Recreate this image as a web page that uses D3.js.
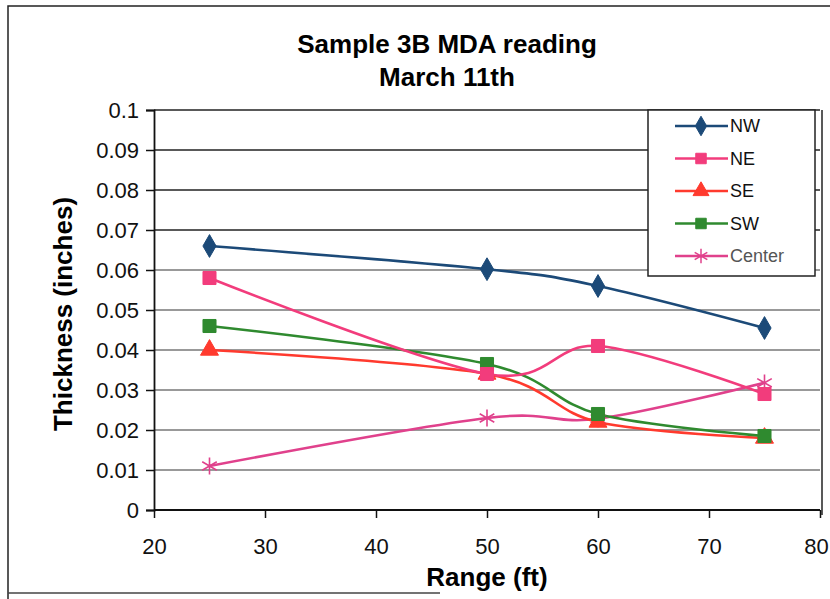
<!DOCTYPE html>
<html>
<head>
<meta charset="utf-8">
<script src="https://cdn.jsdelivr.net/npm/d3@7"></script>
<style>
  body { margin: 0; background: #fff; }
  svg text { font-family: "Liberation Sans", Arial, sans-serif; }
</style>
</head>
<body>
<svg id="chart" width="830" height="599"></svg>
<script>
// data
const ranges = [25, 50, 60, 75];
const seriesNames = ["NW", "NE", "SE", "SW", "Center"];
const nw = [0.066, 0.0602, 0.056, 0.0455];
const ne = [0.058, 0.034, 0.041, 0.029];
const se = [0.040, 0.034, 0.022, 0.018];
const sw = [0.046, 0.0365, 0.024, 0.0185];
const center = [0.011, 0.023, 0.0228, 0.0318];
const xTicks = [20, 30, 40, 50, 60, 70, 80];
const yTicks = [0, 0.01, 0.02, 0.03, 0.04, 0.05, 0.06, 0.07, 0.08, 0.09, 0.1];

const series = [
  { name: "NW", values: nw, color: "#1c4a78", marker: "diamond" },
  { name: "NE", values: ne, color: "#f23c7c", marker: "square" },
  { name: "SE", values: se, color: "#ff3a2e", marker: "triangle" },
  { name: "SW", values: sw, color: "#2f8a2f", marker: "square" },
  { name: "Center", values: center, color: "#e0418c", marker: "star" }
];

const svg = d3.select("#chart");
const plotL = 154, plotR = 820, plotT = 110, plotB = 510;

// chart frame (scan shows top/left, and part of the bottom)
svg.append("path")
  .attr("d", "M8,599 L8,6 L830,6")
  .attr("fill", "none").attr("stroke", "#222").attr("stroke-width", 1.5);
svg.append("line")
  .attr("x1", 8).attr("x2", 440).attr("y1", 593).attr("y2", 593)
  .attr("stroke", "#444").attr("stroke-width", 1.5);

const x = d3.scaleLinear().domain([20, 80]).range([plotL, plotR]);
const y = d3.scaleLinear().domain([0, 0.1]).range([plotB, plotT]);

// gridlines
svg.append("g").selectAll("line").data(yTicks.slice(1)).join("line")
  .attr("x1", plotL).attr("x2", plotR)
  .attr("y1", d => y(d)).attr("y2", d => y(d))
  .attr("stroke", d => d >= 0.07 ? "#222" : "#777")
  .attr("stroke-width", 1.3);

// right border of plot area
svg.append("line")
  .attr("x1", plotR + 2).attr("x2", plotR + 2).attr("y1", plotT).attr("y2", plotB + 5)
  .attr("stroke", "#222").attr("stroke-width", 1.5);

const yAxis = svg.append("g")
  .attr("transform", `translate(${plotL},0)`)
  .call(d3.axisLeft(y).tickValues(yTicks).tickSize(8).tickPadding(7)
    .tickFormat(d => d === 0 ? "0" : String(+d.toFixed(2))));
const xAxis = svg.append("g")
  .attr("transform", `translate(0,${plotB})`)
  .call(d3.axisBottom(x).tickValues(xTicks).tickSize(8).tickPadding(20));

[xAxis, yAxis].forEach(a => {
  a.select(".domain").attr("stroke", "#111").attr("stroke-width", 1.8);
  a.selectAll(".tick line").attr("stroke", "#111").attr("stroke-width", 1.5);
  a.selectAll(".tick text").attr("fill", "#111").style("font-size", "22px");
});
xAxis.select(".domain").attr("d", `M${plotL},0H${plotR}`);
// keep the last label inside the page
xAxis.selectAll(".tick text").filter(d => d === 80).attr("dx", -4);

// lines
const line = d3.line()
  .x((d, i) => x(ranges[i]))
  .y(d => y(d))
  .curve(d3.curveCardinal.tension(0));

const symbolType = {
  diamond: d3.symbolDiamond,
  square: d3.symbolSquare,
  triangle: d3.symbolTriangle,
  star: d3.symbolAsterisk
};
const symbolSize = { diamond: 150, square: 170, triangle: 140, star: 200 };

const drawOrder = [4, 2, 3, 1, 0];
drawOrder.forEach(k => {
  const s = series[k];
  svg.append("path")
    .attr("d", line(s.values))
    .attr("fill", "none")
    .attr("stroke", s.color)
    .attr("stroke-width", 2.6);
});
drawOrder.forEach(k => {
  const s = series[k];
  svg.append("g").selectAll("path").data(s.values).join("path")
    .attr("transform", (d, i) => `translate(${x(ranges[i])},${y(d)})`)
    .attr("d", d3.symbol().type(symbolType[s.marker]).size(symbolSize[s.marker])())
    .attr("fill", s.marker === "star" ? "none" : s.color)
    .attr("stroke", s.color)
    .attr("stroke-width", s.marker === "star" ? 1.6 : 1);
});

// legend
const lg = svg.append("g");
lg.append("rect")
  .attr("x", 648).attr("y", 110).attr("width", 167).attr("height", 166)
  .attr("fill", "#fff").attr("stroke", "#222").attr("stroke-width", 1.5);
series.forEach((s, i) => {
  const ly = 126 + i * 32.5;
  lg.append("line")
    .attr("x1", 675).attr("x2", 728).attr("y1", ly).attr("y2", ly)
    .attr("stroke", s.color).attr("stroke-width", 2.6);
  lg.append("path")
    .attr("transform", `translate(701,${ly})`)
    .attr("d", d3.symbol().type(symbolType[s.marker]).size(s.marker === "star" ? 150 : 110)())
    .attr("fill", s.marker === "star" ? "none" : s.color)
    .attr("stroke", s.color).attr("stroke-width", s.marker === "star" ? 1.5 : 1);
  lg.append("text")
    .attr("x", 730).attr("y", ly + 6)
    .style("font-size", "18px")
    .attr("fill", s.name === "Center" ? "#555" : "#111")
    .text(s.name);
});

// titles
svg.append("text").attr("x", 447).attr("y", 53).attr("text-anchor", "middle")
  .style("font-size", "26px").style("font-weight", "bold").text("Sample 3B MDA reading");
svg.append("text").attr("x", 447).attr("y", 86).attr("text-anchor", "middle")
  .style("font-size", "26px").style("font-weight", "bold").text("March 11th");
svg.append("text").attr("x", 487).attr("y", 586).attr("text-anchor", "middle")
  .style("font-size", "26px").style("font-weight", "bold").text("Range (ft)");
svg.append("text")
  .attr("transform", "translate(72,314) rotate(-90)")
  .attr("text-anchor", "middle")
  .style("font-size", "26px").style("font-weight", "bold").text("Thickness (inches)");
</script>
</body>
</html>
